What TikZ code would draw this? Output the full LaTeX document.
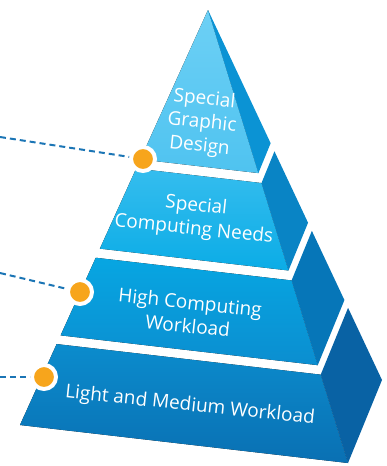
\documentclass[tikz,border=0pt]{standalone}
\usepackage{fontspec}
\setmainfont{Open Sans}
\usetikzlibrary{calc}
\definecolor{fronta}{HTML}{6DD0F5}
\definecolor{frontb}{HTML}{4FC3F0}
\definecolor{sidea}{HTML}{0B93D4}
\definecolor{frontc}{HTML}{35BDEE}
\definecolor{frontd}{HTML}{0BACE6}
\definecolor{sideb}{HTML}{0984C5}
\definecolor{fronte}{HTML}{07A6E2}
\definecolor{frontf}{HTML}{0B8ED0}
\definecolor{sidec}{HTML}{0676B8}
\definecolor{frontg}{HTML}{0B8CCD}
\definecolor{fronth}{HTML}{0A70B3}
\definecolor{sided}{HTML}{0962A4}
\definecolor{dotorange}{HTML}{F7A51C}
\definecolor{leadblue}{HTML}{1B75B5}

\begin{document}
\begin{tikzpicture}[x=1pt,y=-1pt,
  lbl/.style={text=white,align=center,font=\fontsize{19}{23.5}\selectfont,rotate=-6},
  dot/.style={circle,inner sep=0pt,minimum size=24pt,fill=dotorange,draw=white,line width=4pt},
  lead/.style={draw=leadblue,line width=2pt,dash pattern=on 6pt off 4pt}]
\useasboundingbox (0,0) rectangle (386,466);
% pyramid corners
\coordinate (A) at (208,10);
\coordinate (L) at (20,425);
\coordinate (F) at (348,463);
\coordinate (R) at (382,380);
% tiers: start/end along the edges, front colours, side colour
\foreach \s/\e/\fa/\fb/\sd in {0/0.36/fronta/frontb/sidea,
    0.382/0.575/frontc/frontd/sideb,
    0.597/0.784/fronte/frontf/sidec,
    0.805/1/frontg/fronth/sided}
{
  \fill[top color=\fa,bottom color=\fb] ($(A)!\s!(L)$) -- ($(A)!\s!(F)$) -- ($(A)!\e!(F)$) -- ($(A)!\e!(L)$) -- cycle;
  \fill[\sd] ($(A)!\s!(F)$) -- ($(A)!\s!(R)$) -- ($(A)!\e!(R)$) -- ($(A)!\e!(F)$) -- cycle;
}
\node[lbl] (t1) at (202,123) {Special\\Graphic\\Design};
\node[lbl] (t2) at (195,218) {Special\\Computing Needs};
\node[lbl] (t3) at (189,314) {High Computing\\Workload};
\node[lbl] (t4) at (190,406) {Light and Medium Workload};
% markers and leaders
\node[dot] (d1) at (143,159) {};
\node[dot] (d2) at (80,292) {};
\node[dot] (d3) at (44,377) {};
\coordinate (l1) at (0,137);
\coordinate (l2) at (0,273);
\coordinate (l3) at (0,377);
\draw[lead] (l1) -- (d1);
\draw[lead] (l2) -- (d2);
\draw[lead] (l3) -- (d3);
\end{tikzpicture}
\end{document}
